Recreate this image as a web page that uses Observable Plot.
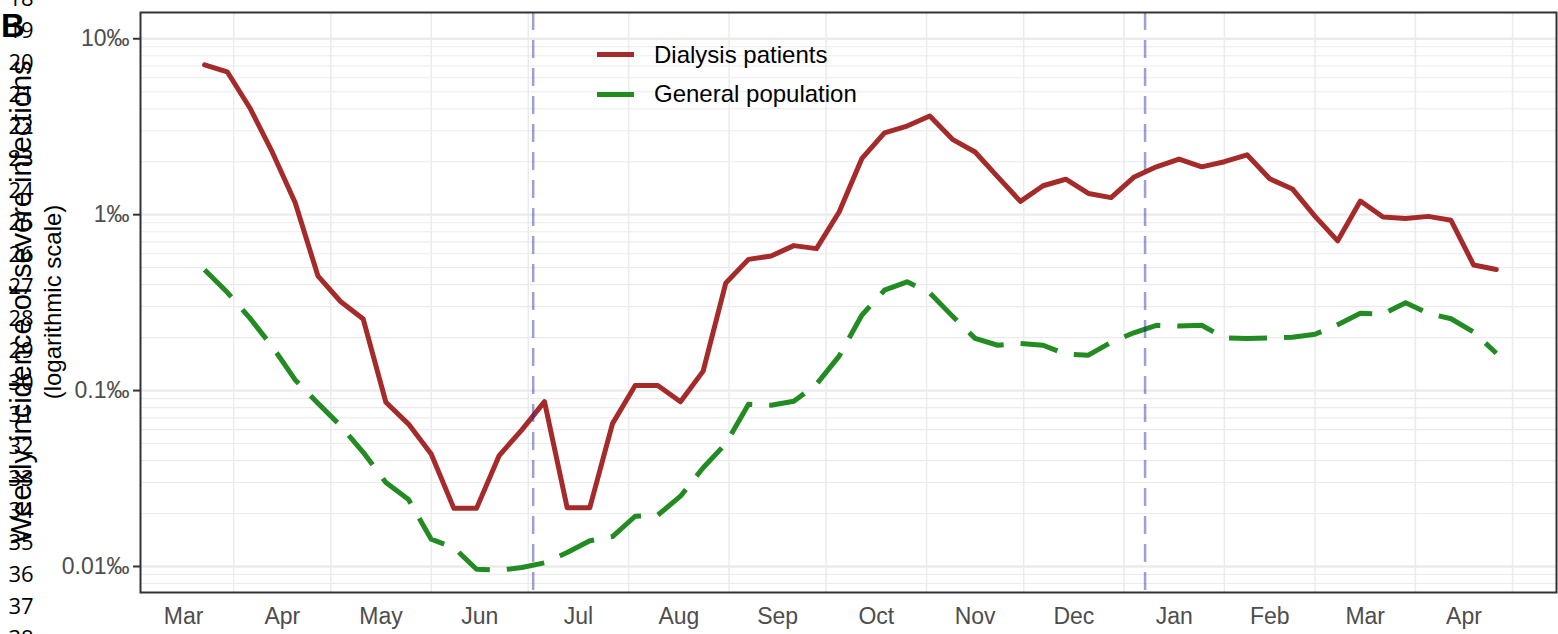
<!DOCTYPE html>
<html>
<head>
<meta charset="utf-8">
<script src="https://cdn.jsdelivr.net/npm/d3@7"></script>
<script src="https://cdn.jsdelivr.net/npm/@observablehq/plot@0.6"></script>
<style>
  html, body { margin: 0; padding: 0; background: white; }
  #wrap { position: relative; width: 1558px; height: 634px; overflow: hidden; background: white; }
  #wrap > svg { position: absolute; left: 0; top: 0; }
</style>
</head>
<body>
<div id="wrap"></div>
<script>
// ---- data (weekly incidence, per mille) ----
const weeks = [
  "2020-03-23","2020-03-30","2020-04-06","2020-04-13","2020-04-20","2020-04-27",
  "2020-05-04","2020-05-11","2020-05-18","2020-05-25","2020-06-01","2020-06-08",
  "2020-06-15","2020-06-22","2020-06-29","2020-07-06","2020-07-13","2020-07-20",
  "2020-07-27","2020-08-03","2020-08-10","2020-08-17","2020-08-24","2020-08-31",
  "2020-09-07","2020-09-14","2020-09-21","2020-09-28","2020-10-05","2020-10-12",
  "2020-10-19","2020-10-26","2020-11-02","2020-11-09","2020-11-16","2020-11-23",
  "2020-11-30","2020-12-07","2020-12-14","2020-12-21","2020-12-28","2021-01-04",
  "2021-01-11","2021-01-18","2021-01-25","2021-02-01","2021-02-08","2021-02-15",
  "2021-02-22","2021-03-01","2021-03-08","2021-03-15","2021-03-22","2021-03-29",
  "2021-04-05","2021-04-12","2021-04-19","2021-04-26"
];
const dialysis = [
  7.1, 6.49, 4.04, 2.25, 1.17, 0.449, 0.321, 0.255, 0.0858, 0.0645, 0.0436, 0.0214,
  0.0214, 0.0427, 0.0598, 0.0865, 0.0216, 0.0216, 0.0649, 0.107, 0.107, 0.0863, 0.129, 0.409,
  0.557, 0.582, 0.667, 0.641, 1.035, 2.08, 2.92, 3.19, 3.64, 2.68, 2.27, 1.64,
  1.19, 1.46, 1.59, 1.32, 1.25, 1.63, 1.87, 2.07, 1.87, 2.0, 2.19, 1.60,
  1.40, 0.978, 0.710, 1.195, 0.97, 0.95, 0.978, 0.929, 0.517, 0.488
];
const generalPop = [
  0.486, 0.362, 0.258, 0.177, 0.115, 0.0847, 0.0631, 0.0446, 0.030, 0.024, 0.0143, 0.0128,
  0.00964, 0.00952, 0.00987, 0.0105, 0.0120, 0.0140, 0.0148, 0.0193, 0.0196, 0.0251, 0.0364, 0.050,
  0.0836, 0.0826, 0.0870, 0.1086, 0.157, 0.268, 0.372, 0.415, 0.359, 0.265, 0.198, 0.181,
  0.185, 0.181, 0.161, 0.159, 0.188, 0.213, 0.235, 0.233, 0.235, 0.1995, 0.198, 0.199,
  0.201, 0.209, 0.237, 0.275, 0.272, 0.316, 0.275, 0.256, 0.215, 0.163
];
const seriesNames = ["Dialysis patients", "General population"];
const seriesColors = ["#A52A2A", "#228B22"];
const markerDates = ["2020-07-02T12:00Z", "2021-01-07T12:00Z"];
const monthStarts = [
  "2020-03-01","2020-04-01","2020-05-01","2020-06-01","2020-07-01","2020-08-01","2020-09-01",
  "2020-10-01","2020-11-01","2020-12-01","2021-01-01","2021-02-01","2021-03-01","2021-04-01","2021-05-01"
];
const monthLabels = ["Mar","Apr","May","Jun","Jul","Aug","Sep","Oct","Nov","Dec","Jan","Feb","Mar","Apr"];
const yTicks = [0.01, 0.1, 1, 10];
const yTickLabels = ["0.01‰", "0.1‰", "1‰", "10‰"];
const yMinorMultipliers = [2, 3, 4, 5, 6, 7, 8, 9];
const yDecades = [0.001, 0.01, 0.1, 1];
const lineNumbers = [18,19,20,21,22,23,24,25,26,27,28,29,30,31,32,33,34,35,36,37,38];
const panelLetter = "B";
const yTitle1 = "Weekly incidence of severe infections";
const yTitle2 = "(logarithmic scale)";

// ---- build tables ----
const parse = s => new Date(s.length === 10 ? s + "T00:00Z" : s);
const rows = [];
weeks.forEach((w, i) => {
  rows.push({date: parse(w), value: dialysis[i], series: seriesNames[0]});
  rows.push({date: parse(w), value: generalPop[i], series: seriesNames[1]});
});
const dRows = rows.filter(r => r.series === seriesNames[0]);
const gRows = rows.filter(r => r.series === seriesNames[1]);

const starts = monthStarts.map(parse);
const mids = monthLabels.map((_, i) => new Date((+starts[i] + +starts[i + 1]) / 2));
const midLabel = new Map(mids.map((d, i) => [+d, monthLabels[i]]));
const yLabel = new Map(yTicks.map((t, i) => [t, yTickLabels[i]]));

const xDomain = [new Date(Date.UTC(2020, 2, 3, 5)), new Date(Date.UTC(2021, 4, 14, 14))];
const yDomain = [0.007115, 14.1];
const gridMonths = starts.filter(d => d > xDomain[0] && d < xDomain[1]);
const minorY = yDecades.flatMap(d => yMinorMultipliers.map(m => m * d))
  .filter(v => v > yDomain[0] && v < yDomain[1]);

const grid = "#ebebeb";

const chart = Plot.plot({
  width: 1558,
  height: 634,
  marginLeft: 140,
  marginRight: 2,
  marginTop: 12,
  marginBottom: 42,
  style: {fontFamily: "'Liberation Sans', Arial, sans-serif", background: "white", overflow: "visible"},
  x: {type: "utc", domain: xDomain, label: null},
  y: {type: "log", domain: yDomain, label: null},
  marks: [
    Plot.ruleY(minorY, {stroke: grid, strokeWidth: 1.1}),
    Plot.ruleX(gridMonths, {stroke: grid, strokeWidth: 1.5}),
    Plot.ruleY(yTicks, {stroke: grid, strokeWidth: 2.4}),
    Plot.line(gRows, {x: "date", y: "value", stroke: seriesColors[1], strokeWidth: 5,
      strokeDasharray: "38,17", strokeLinecap: "butt"}),
    Plot.line(dRows, {x: "date", y: "value", stroke: seriesColors[0], strokeWidth: 5}),
    Plot.ruleX(markerDates.map(parse), {stroke: "#1a1aa0", strokeOpacity: 0.42, strokeWidth: 2.5,
      strokeDasharray: "18,10"}),
    Plot.frame({stroke: "#333333", strokeWidth: 2}),
    Plot.axisX({ticks: mids, tickFormat: d => midLabel.get(+d), tickSize: 0, tickPadding: 15,
      fontSize: 23, color: "#4d4d4d", label: null}),
    Plot.axisY({ticks: yTicks, tickFormat: d => yLabel.get(d), tickSize: 7, tickPadding: 4,
      fontSize: 23, stroke: "#333333", fill: "#4d4d4d", strokeWidth: 2, label: null})
  ]
});

const wrap = document.getElementById("wrap");
wrap.appendChild(chart);

// ---- overlay: legend, panel letter, y title, margin line numbers ----
const ov = d3.select(wrap).append("svg")
  .attr("width", 1558).attr("height", 634)
  .style("position", "absolute").style("left", "0px").style("top", "0px")
  .style("pointer-events", "none")
  .style("font-family", "'Liberation Sans', Arial, sans-serif");

// legend
const legendKeyY = [54.5, 94.5];
const legendTextY = [63, 101.5];
seriesNames.forEach((name, i) => {
  ov.append("line").attr("x1", 597).attr("x2", 634)
    .attr("y1", legendKeyY[i]).attr("y2", legendKeyY[i])
    .attr("stroke", seriesColors[i]).attr("stroke-width", 5);
  ov.append("text").attr("x", 654).attr("y", legendTextY[i])
    .attr("font-size", 24).attr("fill", "black").text(name);
});

// y-axis title (two lines)
ov.append("text")
  .attr("transform", "translate(21,302) rotate(-90)")
  .attr("text-anchor", "middle").attr("dominant-baseline", "central")
  .attr("font-size", 29).attr("fill", "black").text(yTitle1);
ov.append("text")
  .attr("transform", "translate(52,302) rotate(-90)")
  .attr("text-anchor", "middle").attr("dominant-baseline", "central")
  .attr("font-size", 24).attr("fill", "black").text(yTitle2);

// manuscript line numbers
lineNumbers.forEach(n => {
  ov.append("text").attr("x", 21).attr("y", 30 + (n - 19) * 32 + 8)
    .attr("text-anchor", "middle")
    .attr("font-family", "'Open Sans', sans-serif")
    .attr("font-size", 22).attr("fill", "black").text(n);
});

// panel letter
ov.append("text").attr("x", 1).attr("y", 37)
  .attr("font-size", 33).attr("font-weight", "bold").attr("fill", "black").text(panelLetter);
</script>
</body>
</html>
